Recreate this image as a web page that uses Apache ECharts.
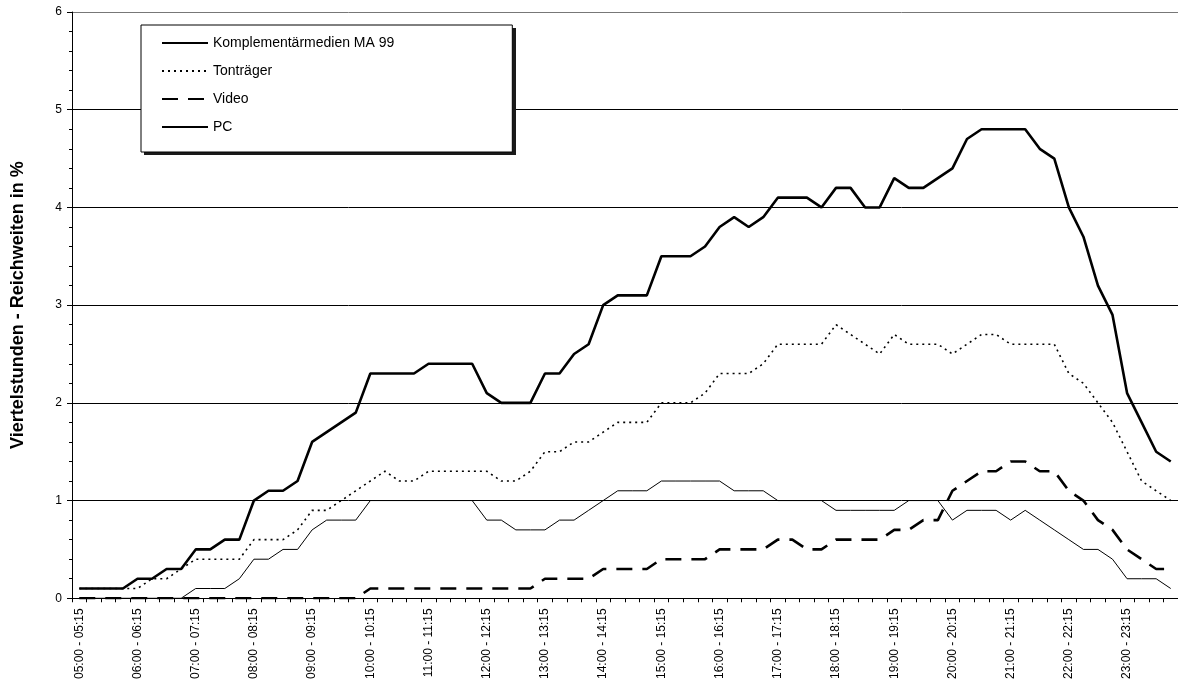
<!DOCTYPE html>
<html><head><meta charset="utf-8">
<script src="https://cdn.jsdelivr.net/npm/echarts@6/dist/echarts.min.js"></script>
<style>html,body{margin:0;padding:0;background:#fff}#c{width:1178px;height:682px}</style>
</head><body><div id="c"></div>
<script>
const categories = [
"05:00 - 05:15","05:15 - 05:30","05:30 - 05:45","05:45 - 06:00",
"06:00 - 06:15","06:15 - 06:30","06:30 - 06:45","06:45 - 07:00",
"07:00 - 07:15","07:15 - 07:30","07:30 - 07:45","07:45 - 08:00",
"08:00 - 08:15","08:15 - 08:30","08:30 - 08:45","08:45 - 09:00",
"09:00 - 09:15","09:15 - 09:30","09:30 - 09:45","09:45 - 10:00",
"10:00 - 10:15","10:15 - 10:30","10:30 - 10:45","10:45 - 11:00",
"11:00 - 11:15","11:15 - 11:30","11:30 - 11:45","11:45 - 12:00",
"12:00 - 12:15","12:15 - 12:30","12:30 - 12:45","12:45 - 13:00",
"13:00 - 13:15","13:15 - 13:30","13:30 - 13:45","13:45 - 14:00",
"14:00 - 14:15","14:15 - 14:30","14:30 - 14:45","14:45 - 15:00",
"15:00 - 15:15","15:15 - 15:30","15:30 - 15:45","15:45 - 16:00",
"16:00 - 16:15","16:15 - 16:30","16:30 - 16:45","16:45 - 17:00",
"17:00 - 17:15","17:15 - 17:30","17:30 - 17:45","17:45 - 18:00",
"18:00 - 18:15","18:15 - 18:30","18:30 - 18:45","18:45 - 19:00",
"19:00 - 19:15","19:15 - 19:30","19:30 - 19:45","19:45 - 20:00",
"20:00 - 20:15","20:15 - 20:30","20:30 - 20:45","20:45 - 21:00",
"21:00 - 21:15","21:15 - 21:30","21:30 - 21:45","21:45 - 22:00",
"22:00 - 22:15","22:15 - 22:30","22:30 - 22:45","22:45 - 23:00",
"23:00 - 23:15","23:15 - 23:30","23:30 - 23:45","23:45 - 24:00"
];
const komplementaer = [
0.1,0.1,0.1,0.1, 0.2,0.2,0.3,0.3, 0.5,0.5,0.6,0.6, 1.0,1.1,1.1,1.2,
1.6,1.7,1.8,1.9, 2.3,2.3,2.3,2.3, 2.4,2.4,2.4,2.4, 2.1,2.0,2.0,2.0,
2.3,2.3,2.5,2.6, 3.0,3.1,3.1,3.1, 3.5,3.5,3.5,3.6, 3.8,3.9,3.8,3.9,
4.1,4.1,4.1,4.0, 4.2,4.2,4.0,4.0, 4.3,4.2,4.2,4.3, 4.4,4.7,4.8,4.8,
4.8,4.8,4.6,4.5, 4.0,3.7,3.2,2.9, 2.1,1.8,1.5,1.4
];
const tontraeger = [
0.1,0.1,0.1,0.1, 0.1,0.2,0.2,0.3, 0.4,0.4,0.4,0.4, 0.6,0.6,0.6,0.7,
0.9,0.9,1.0,1.1, 1.2,1.3,1.2,1.2, 1.3,1.3,1.3,1.3, 1.3,1.2,1.2,1.3,
1.5,1.5,1.6,1.6, 1.7,1.8,1.8,1.8, 2.0,2.0,2.0,2.1, 2.3,2.3,2.3,2.4,
2.6,2.6,2.6,2.6, 2.8,2.7,2.6,2.5, 2.7,2.6,2.6,2.6, 2.5,2.6,2.7,2.7,
2.6,2.6,2.6,2.6, 2.3,2.2,2.0,1.8, 1.5,1.2,1.1,1.0
];
const video = [
0,0,0,0, 0,0,0,0, 0,0,0,0, 0,0,0,0,
0,0,0,0, 0.1,0.1,0.1,0.1, 0.1,0.1,0.1,0.1, 0.1,0.1,0.1,0.1,
0.2,0.2,0.2,0.2, 0.3,0.3,0.3,0.3, 0.4,0.4,0.4,0.4, 0.5,0.5,0.5,0.5,
0.6,0.6,0.5,0.5, 0.6,0.6,0.6,0.6, 0.7,0.7,0.8,0.8, 1.1,1.2,1.3,1.3,
1.4,1.4,1.3,1.3, 1.1,1.0,0.8,0.7, 0.5,0.4,0.3,0.3
];
const pc = [
0,0,0,0, 0,0,0,0, 0.1,0.1,0.1,0.2, 0.4,0.4,0.5,0.5,
0.7,0.8,0.8,0.8, 1.0,1.0,1.0,1.0, 1.0,1.0,1.0,1.0, 0.8,0.8,0.7,0.7,
0.7,0.8,0.8,0.9, 1.0,1.1,1.1,1.1, 1.2,1.2,1.2,1.2, 1.2,1.1,1.1,1.1,
1.0,1.0,1.0,1.0, 0.9,0.9,0.9,0.9, 0.9,1.0,1.0,1.0, 0.8,0.9,0.9,0.9,
0.8,0.9,0.8,0.7, 0.6,0.5,0.5,0.4, 0.2,0.2,0.2,0.1
];
const seriesNames = ["Komplementärmedien MA 99","Tonträger","Video","PC"];
const yAxisTitle = "Viertelstunden - Reichweiten in %";

const font = "'Liberation Sans', Arial, sans-serif";
const chart = echarts.init(document.getElementById('c'), null, {renderer:'canvas'});
chart.setOption({
  animation:false,
  backgroundColor:'#fff',
  textStyle:{fontFamily:font, color:'#000'},
  grid:{left:72, top:12, right:-10, bottom:82, containLabel:false},
  graphic:[
    {type:'rect', z:1, shape:{x:144, y:28, width:372, height:127}, style:{fill:'#1a1a1a'}}
  ],
  legend:{
    data:seriesNames, orient:'vertical', left:141, top:25, z:10,
    itemWidth:46, itemHeight:14, itemGap:14,
    padding:[11,118,18,20],
    borderColor:'#000', borderWidth:1, backgroundColor:'#fff',
    itemStyle:{opacity:0},
    textStyle:{fontSize:14, color:'#000', fontFamily:font}
  },
  xAxis:{
    type:'category', data:categories, boundaryGap:true,
    axisLine:{show:true, lineStyle:{color:'#000', width:1}},
    axisTick:{show:true, interval:0, length:4, lineStyle:{color:'#000'}},
    axisLabel:{interval:3, rotate:90, fontSize:12, color:'#000', fontFamily:font, margin:10},
    splitLine:{show:false}
  },
  yAxis:{
    type:'value', min:0, max:6, interval:1,
    name:yAxisTitle, nameLocation:'middle', nameGap:45,
    nameTextStyle:{fontSize:18, fontWeight:'bold', color:'#000', fontFamily:font},
    axisLine:{show:true, lineStyle:{color:'#000', width:1}},
    axisTick:{show:true, length:5, lineStyle:{color:'#000'}},
    minorTick:{show:true, splitNumber:5, length:3, lineStyle:{color:'#000'}},
    axisLabel:{fontSize:12, color:'#000', fontFamily:font, margin:10},
    splitLine:{show:true, lineStyle:{color:['#000','#000','#000','#000','#000','#000','#777'], width:1}}
  },
  series:[
    {name:seriesNames[0], type:'line', data:komplementaer, symbol:'none', z:5,
     lineStyle:{color:'#000', width:2.6, type:'solid'}, itemStyle:{color:'#000'}},
    {name:seriesNames[1], type:'line', data:tontraeger, symbol:'none', z:4,
     lineStyle:{color:'#000', width:1.6, type:[2,4]}, itemStyle:{color:'#000'}},
    {name:seriesNames[2], type:'line', data:video, symbol:'none', z:3,
     lineStyle:{color:'#000', width:2.6, type:[16,10]}, itemStyle:{color:'#000'}},
    {name:seriesNames[3], type:'line', data:pc, symbol:'none', z:2,
     lineStyle:{color:'#000', width:1, type:'solid'}, itemStyle:{color:'#000'}}
  ]
});
</script></body></html>
